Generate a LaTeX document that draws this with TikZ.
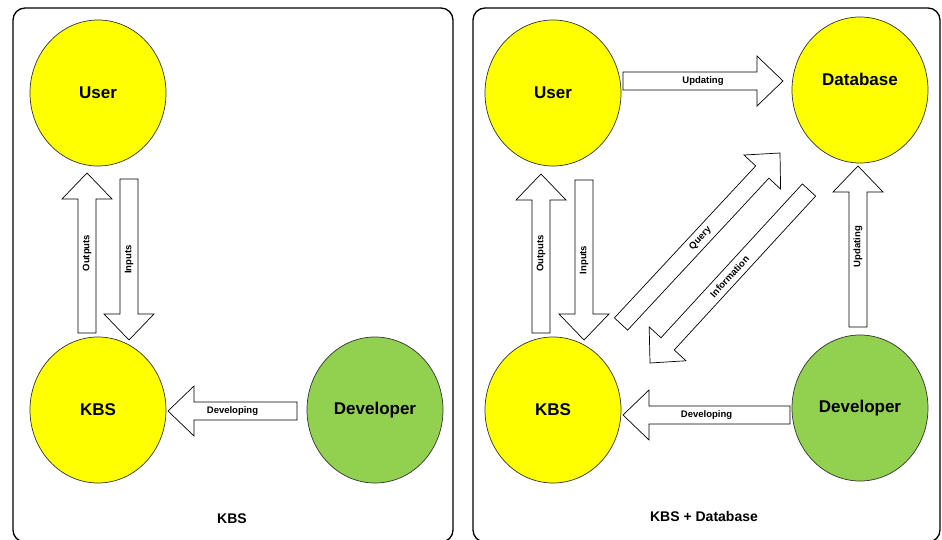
\documentclass[tikz,border=0pt]{standalone}
\usepackage{fontspec}
\setmainfont{Liberation Sans}
\usetikzlibrary{shapes.geometric,calc}
\definecolor{kbsyellow}{HTML}{FFFF00}
\definecolor{devgreen}{HTML}{92D050}

% half shaft width, half head width, head length of the block arrows
\def\bashaft{9pt}
\def\bahead{25pt}
\def\balen{26pt}

% block arrow from tail coordinate #1 to tip coordinate #2
\newcommand{\blockarrow}[2]{%
  \coordinate (#1h) at ($(#2)!\balen!(#1)$);
  \draw[barrow] ($(#1)!\bashaft!90:(#2)$) -- ($(#1h)!\bashaft!90:(#2)$)
    -- ($(#1h)!\bahead!90:(#2)$) -- (#2) -- ($(#1h)!\bahead!-90:(#2)$)
    -- ($(#1h)!\bashaft!-90:(#2)$) -- ($(#1)!\bashaft!-90:(#2)$) -- cycle;}

\tikzset{
  panel/.style={draw=black, line width=1.3pt, rounded corners=12pt},
  blobfont/.style={font=\fontsize{17}{20}\selectfont\bfseries},
  blob/.style={ellipse, draw=black!80, line width=0.7pt, minimum width=136pt,
    minimum height=146pt, inner sep=0pt, blobfont},
  barrow/.style={draw=black, fill=white, line width=0.7pt, line join=miter},
  lbl/.style={inner sep=0pt, font=\fontsize{9.5}{11}\selectfont\bfseries},
  panelcaption/.style={inner sep=0pt, font=\fontsize{14}{16}\selectfont\bfseries},
}

\begin{document}
\begin{tikzpicture}[x=1pt, y=-1pt]
\useasboundingbox (0,0) rectangle (942,540);

% the two panels
\draw[panel] (13,8) rectangle (453,542);
\draw[panel] (473,8) rectangle (940,542);

% ---------- left panel: KBS ----------
\node[blob, fill=kbsyellow] (userL) at (98,93) {User};
\node[blob, fill=kbsyellow] (kbsL) at (98,410) {KBS};
\node[blob, fill=devgreen] (devL) at (375,410) {Developer};

\coordinate (oL) at (87,333);   \coordinate (oLt) at (87,173);
\coordinate (iL) at (129,179);  \coordinate (iLt) at (129,340);
\coordinate (dL) at (297,411);  \coordinate (dLt) at (168,411);

\blockarrow{oL}{oLt}
\blockarrow{iL}{iLt}
\blockarrow{dL}{dLt}
\path (oL) -- (oLt) node[lbl, midway, sloped] {Outputs};
\path (iLt) -- (iL) node[lbl, midway, sloped] {Inputs};
\path (dLt) -- (dL) node[lbl, midway, sloped] {Developing};

\node[panelcaption] (capL) at (232,519) {KBS};

% ---------- right panel: KBS + Database ----------
\node[blob, fill=kbsyellow] (userR) at (553,93) {User};
\node[blob, fill=kbsyellow] (kbsR) at (553,410) {KBS};
\node[blob, fill=kbsyellow] (dbR) at (860,90) {};
\node[blobfont, inner sep=0pt] (dbText) at ([yshift=11pt]dbR.center) {Database};
\node[blob, fill=devgreen] (devR) at (860,408) {Developer};

\coordinate (uH) at (623,81);   \coordinate (uHt) at (783,81);
\coordinate (oR) at (541,333);  \coordinate (oRt) at (541,174);
\coordinate (iR) at (584,180);  \coordinate (iRt) at (584,340);
\coordinate (qR) at (621,324);  \coordinate (qRt) at (780,153);
\coordinate (nR) at (809,190);  \coordinate (nRt) at (650,363);
\coordinate (uV) at (858,327);  \coordinate (uVt) at (858,166);
\coordinate (dR) at (790,415);  \coordinate (dRt) at (623,415);

\blockarrow{uH}{uHt}
\blockarrow{oR}{oRt}
\blockarrow{iR}{iRt}
\blockarrow{qR}{qRt}
\blockarrow{nR}{nRt}
\blockarrow{uV}{uVt}
\blockarrow{dR}{dRt}
\path (uH) -- (uHt) node[lbl, midway, sloped] {Updating};
\path (oR) -- (oRt) node[lbl, midway, sloped] {Outputs};
\path (iRt) -- (iR) node[lbl, midway, sloped] {Inputs};
\path (qR) -- (qRt) node[lbl, midway, sloped] {Query};
\path (nRt) -- (nR) node[lbl, midway, sloped] {Information};
\path (uV) -- (uVt) node[lbl, midway, sloped] {Updating};
\path (dRt) -- (dR) node[lbl, midway, sloped] {Developing};

\node[panelcaption] (capR) at (704,516) {KBS + Database};
\end{tikzpicture}
\end{document}
